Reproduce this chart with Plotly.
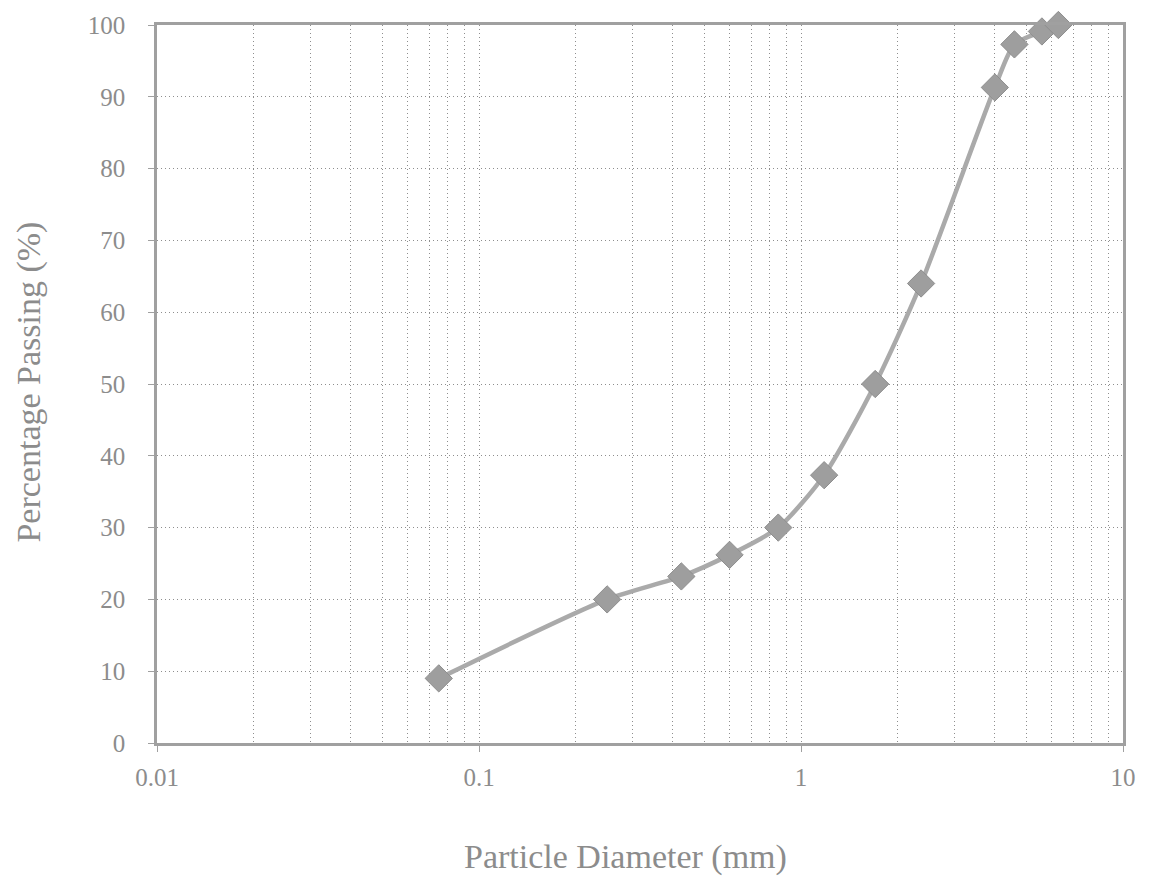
import plotly.graph_objects as go

diameter_mm = [0.075, 0.25, 0.425, 0.6, 0.85, 1.18, 1.7, 2.36, 4.0, 4.6, 5.6, 6.3]
percent_passing = [9, 20, 23.2, 26.2, 30, 37.3, 50, 64, 91.3, 97.3, 99.1, 100]

x_tick_vals = [0.01, 0.1, 1, 10]
x_tick_text = ["0.01", "0.1", "1", "10"]
y_tick_vals = [0, 10, 20, 30, 40, 50, 60, 70, 80, 90, 100]

FONT = "Liberation Serif"
TXT = "#8c8c8c"
GRID = "#8e8e8e"
AX = "#a0a0a0"
DASH = "1px,3px"

fig = go.Figure()
fig.add_trace(go.Scatter(
    x=diameter_mm, y=percent_passing,
    mode="lines+markers",
    line=dict(color="#aaaaaa", width=4.5, shape="spline", smoothing=0.7),
    marker=dict(symbol="diamond", size=21, color="#9e9e9e",
                line=dict(color="#8e8e8e", width=1)),
    cliponaxis=False,
    showlegend=False,
))

fig.update_layout(
    width=1150, height=887,
    margin=dict(l=157, r=27, t=20, b=144),
    paper_bgcolor="white", plot_bgcolor="white",
    font=dict(family=FONT, color=TXT, size=25),
    xaxis=dict(
        type="log", range=[-2, 1],
        tickvals=x_tick_vals, ticktext=x_tick_text,
        showgrid=True, gridcolor=GRID, griddash=DASH, gridwidth=1,
        minor=dict(dtick="D1", showgrid=True, gridcolor=GRID, griddash=DASH, gridwidth=1, ticks=""),
        showline=True, linecolor=AX, linewidth=2.5, mirror=True,
        ticks="outside", ticklen=6, tickcolor=AX,
        ticklabelstandoff=4,
        tickfont=dict(family=FONT, size=25, color=TXT),
        zeroline=False,
    ),
    yaxis=dict(
        range=[0, 100], tickvals=y_tick_vals,
        showgrid=True, gridcolor=GRID, griddash=DASH, gridwidth=1,
        showline=True, linecolor=AX, linewidth=2.5, mirror=True,
        ticks="outside", ticklen=6, tickcolor=AX,
        ticklabelstandoff=18,
        tickfont=dict(family=FONT, size=25, color=TXT),
        zeroline=False,
    ),
    annotations=[
        dict(text="Particle Diameter (mm)", xref="paper", yref="paper",
             x=0.4845, y=-0.159, xanchor="center", yanchor="middle",
             showarrow=False, font=dict(family=FONT, size=34, color=TXT)),
        dict(text="Percentage Passing (%)", xref="paper", yref="paper",
             x=-0.1325, y=0.502, xanchor="center", yanchor="middle", textangle=-90,
             showarrow=False, font=dict(family=FONT, size=34, color=TXT)),
    ],
)

fig.write_html("out.html")
